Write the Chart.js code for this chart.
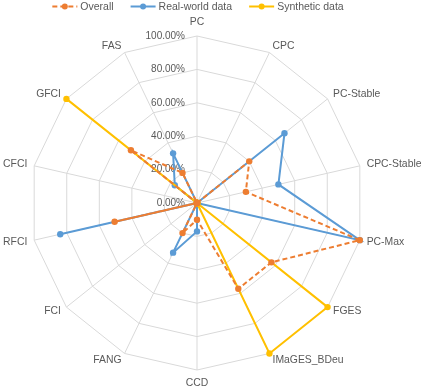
<!DOCTYPE html>
<html>
<head>
<meta charset="utf-8">
<script src="https://cdn.jsdelivr.net/npm/chart.js@4"></script>
<style>
  html, body { margin: 0; padding: 0; background: #fff; }
  #wrap { width: 423px; height: 389px; position: relative; }
</style>
</head>
<body>
<div id="wrap"><canvas id="radar"></canvas></div>
<script>
// Data (percent)
const categories = ['PC', 'CPC', 'PC-Stable', 'CPC-Stable', 'PC-Max', 'FGES', 'IMaGES_BDeu',
                    'CCD', 'FANG', 'FCI', 'RFCI', 'CFCI', 'GFCI', 'FAS'];
const overall   = [0, 0, 40, 30, 100, 57, 57, 10, 20, 0, 50.6, 0, 50.6, 20];
const realWorld = [0, 0, 67, 50, 100, 0, 0, 17, 33, 0, 84, 0, 17, 33];
const synthetic = [0, 0, 0, 0, 0, 100, 100, 0, 0, 0, 0, 0, 100, 0];
const tickValues = [0, 20, 40, 60, 80, 100];

const FONT = '"Liberation Sans", Arial, sans-serif';
const GREY = '#595959';

const fmtPct = v => v.toFixed(2) + '%';

// tick labels sit left of the vertical axis, right-aligned
const tickLabelPlugin = {
  id: 'tickLabels',
  beforeDatasetsDraw(chart) {
    const s = chart.scales.r;
    const ctx = chart.ctx;
    ctx.save();
    ctx.font = '10px ' + FONT;
    ctx.fillStyle = GREY;
    ctx.textAlign = 'right';
    ctx.textBaseline = 'middle';
    tickValues.forEach(v => {
      const d = s.getDistanceFromCenterForValue(v);
      ctx.fillText(fmtPct(v), s.xCenter - 12, s.yCenter - d);
    });
    ctx.restore();
  }
};

// category labels, placed just outside the 100% ring (Excel style)
const pointLabelPlugin = {
  id: 'catLabels',
  afterDraw(chart) {
    const s = chart.scales.r;
    const ctx = chart.ctx;
    const pad = 7;
    ctx.save();
    ctx.font = '10.4px ' + FONT;
    ctx.fillStyle = GREY;
    ctx.textBaseline = 'middle';
    categories.forEach((c, i) => {
      const p = s.getPointPosition(i, s.drawingArea + pad);
      const dx = p.x - s.xCenter;
      let y = p.y;
      if (Math.abs(dx) < 1) {
        ctx.textAlign = 'center';
        y += (p.y < s.yCenter) ? -7 : 6;
      } else {
        ctx.textAlign = dx > 0 ? 'left' : 'right';
      }
      ctx.fillText(c, p.x, y);
    });
    ctx.restore();
  }
};

// Excel-like legend: line segment + marker + text
const legendPlugin = {
  id: 'lineLegend',
  afterDraw(chart) {
    const ctx = chart.ctx;
    const sets = chart.data.datasets;
    ctx.save();
    ctx.font = '10.5px ' + FONT;
    const seg = 25, gap = 3, between = 17;
    const widths = sets.map(d => seg + gap + ctx.measureText(d.label).width);
    const total = widths.reduce((a, b) => a + b, 0) + between * (sets.length - 1);
    let x = 198 - total / 2;
    const y = 6.5;
    sets.forEach((d, i) => {
      ctx.strokeStyle = d.borderColor;
      ctx.lineWidth = 2;
      ctx.setLineDash(d.borderDash || []);
      ctx.beginPath();
      ctx.moveTo(x, y);
      ctx.lineTo(x + seg, y);
      ctx.stroke();
      ctx.setLineDash([]);
      ctx.fillStyle = d.pointBackgroundColor;
      ctx.beginPath();
      ctx.arc(x + seg / 2, y, 3, 0, Math.PI * 2);
      ctx.fill();
      ctx.fillStyle = GREY;
      ctx.textBaseline = 'middle';
      ctx.textAlign = 'left';
      ctx.fillText(d.label, x + seg + gap, y + 0.5);
      x += widths[i] + between;
    });
    ctx.restore();
  }
};

new Chart(document.getElementById('radar'), {
  type: 'radar',
  data: {
    labels: categories,
    datasets: [
      {
        label: 'Overall',
        data: overall,
        borderColor: '#ED7D31',
        pointBackgroundColor: '#ED7D31',
        borderDash: [5, 3],
        order: 1
      },
      {
        label: 'Real-world data',
        data: realWorld,
        borderColor: '#5B9BD5',
        pointBackgroundColor: '#5B9BD5',
        order: 3
      },
      {
        label: 'Synthetic data',
        data: synthetic,
        borderColor: '#FFC000',
        pointBackgroundColor: '#FFC000',
        order: 2
      }
    ]
  },
  options: {
    responsive: true,
    maintainAspectRatio: false,
    animation: false,
    layout: { padding: { top: 36, bottom: 19, left: 30, right: 59 } },
    elements: {
      line: { borderWidth: 2, fill: false, tension: 0 },
      point: { radius: 3.2, borderWidth: 0, hoverRadius: 3.2 }
    },
    plugins: {
      legend: { display: false },
      tooltip: { enabled: false }
    },
    scales: {
      r: {
        min: 0,
        max: 100,
        ticks: { stepSize: 20, display: false },
        grid: { color: '#D9D9D9', lineWidth: 1, circular: false },
        angleLines: { color: '#D9D9D9', lineWidth: 1 },
        pointLabels: { display: false }
      }
    }
  },
  plugins: [tickLabelPlugin, pointLabelPlugin, legendPlugin]
});
</script>
</body>
</html>
